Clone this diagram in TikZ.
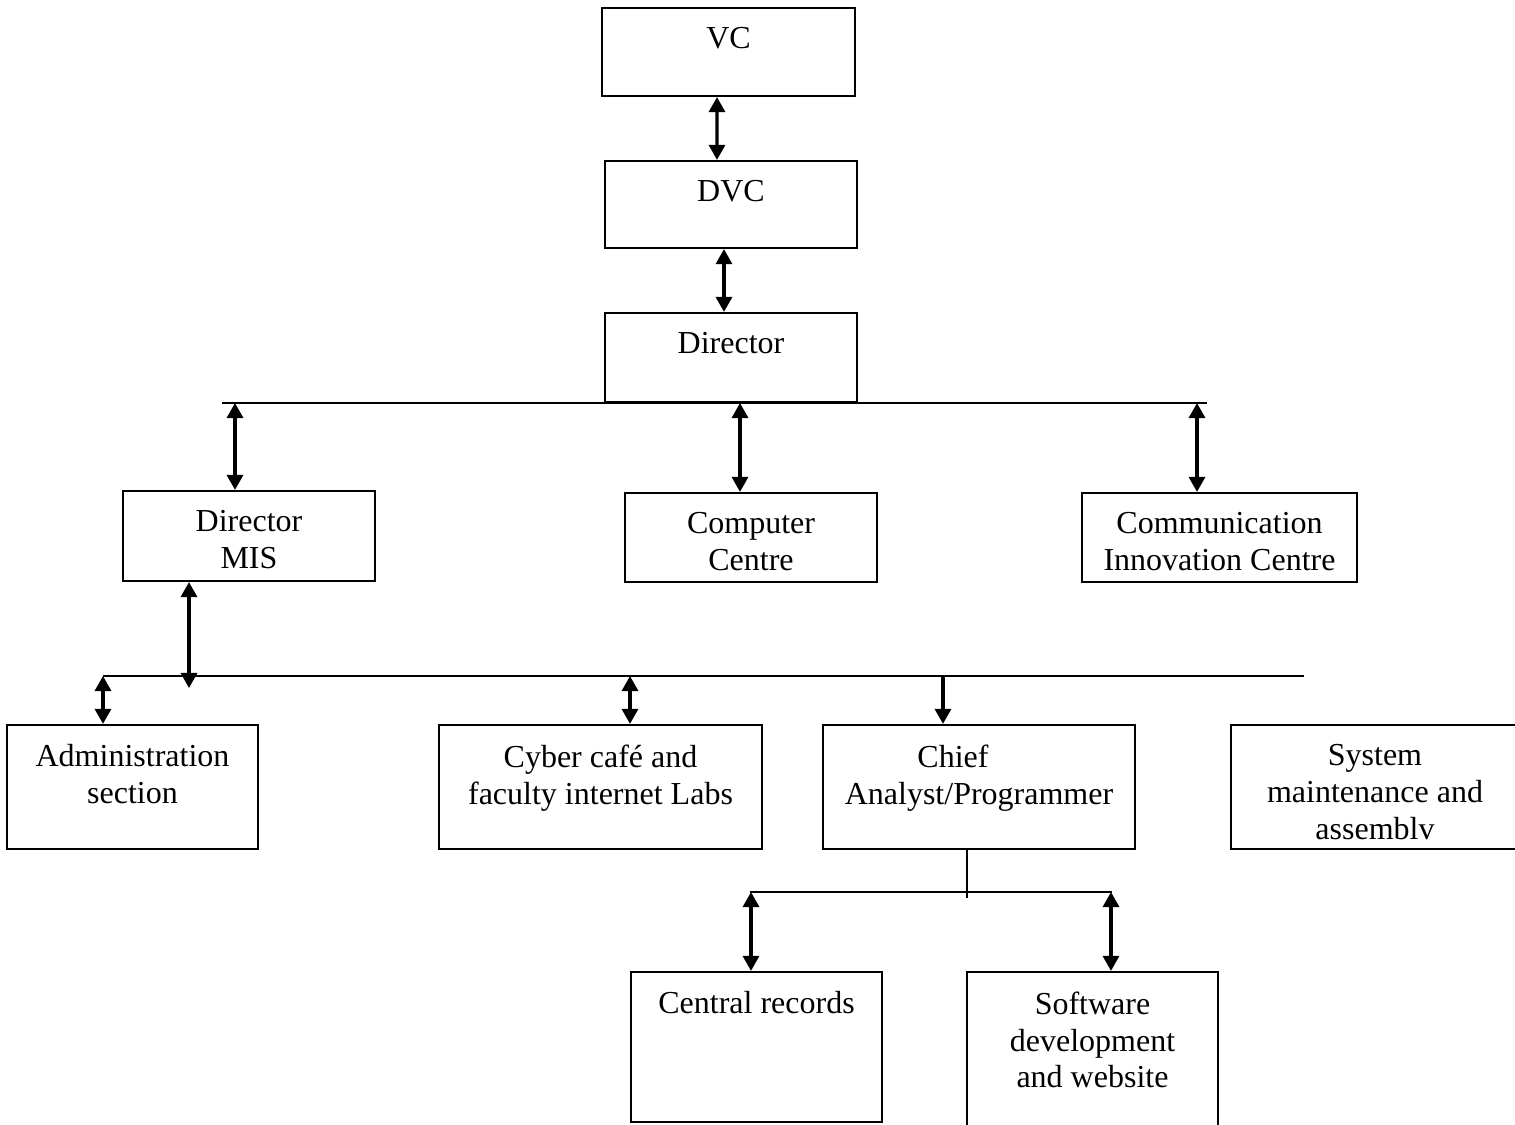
\documentclass[tikz,border=0pt]{standalone}
\usepackage{fontspec}
\setmainfont{Liberation Serif}
\usetikzlibrary{arrows.meta}

\tikzset{
  unitbox/.style={draw, line width=0.6pt, inner sep=0pt},
  boxtext/.style={anchor=north, align=center, inner sep=0pt, yshift=-0.2cm,
    font=\fontsize{9.1pt}{10.5pt}\selectfont},
  twoway/.style={line width=0.9pt,
    {Triangle[width=0.16cm,length=0.15cm]}-{Triangle[width=0.16cm,length=0.15cm]}},
  oneway/.style={line width=0.9pt, -{Triangle[width=0.16cm,length=0.15cm]}},
  busline/.style={line width=0.6pt}
}

\begin{document}
\begin{tikzpicture}[x=0.01cm, y=-0.01cm]
  \clip (0,0) rectangle (1515,1125);
  \node[unitbox, minimum width=2.53cm, minimum height=0.88cm, label={[boxtext]north:VC}] (vc) at (728.5,52) {};
  \node[unitbox, minimum width=2.52cm, minimum height=0.87cm, label={[boxtext]north:DVC}] (dvc) at (731,204.5) {};
  \node[unitbox, minimum width=2.52cm, minimum height=0.89cm, label={[boxtext]north:Director}] (dir) at (731,357.5) {};
  \node[unitbox, minimum width=2.52cm, minimum height=0.90cm, label={[boxtext]north:Director\\MIS}] (mis) at (249,536) {};
  \node[unitbox, minimum width=2.52cm, minimum height=0.89cm, label={[boxtext]north:Computer\\Centre}] (cc) at (751,537.5) {};
  \node[unitbox, minimum width=2.75cm, minimum height=0.89cm, label={[boxtext]north:Communication\\Innovation Centre}] (cic) at (1219.5,537.5) {};
  \node[unitbox, minimum width=2.51cm, minimum height=1.24cm, label={[boxtext]north:Administration\\section}] (admin) at (132.5,787) {};
  \node[unitbox, minimum width=3.23cm, minimum height=1.24cm, label={[boxtext]north:Cyber café and\\faculty internet Labs}] (cyber) at (600.5,787) {};
  \node[unitbox, minimum width=3.12cm, minimum height=1.24cm, label={[boxtext]north:Chief\hspace*{0.52cm}\\Analyst/Programmer}] (chief) at (979,787) {};
  \node[unitbox, minimum width=2.88cm, minimum height=1.24cm, label={[boxtext]north:System\\maintenance and\\assemblv}] (sysm) at (1375,787) {};
  \node[unitbox, minimum width=2.51cm, minimum height=1.50cm, label={[boxtext]north:Central records}] (rec) at (756.5,1047) {};
  \node[unitbox, minimum width=2.51cm, minimum height=1.68cm, label={[boxtext]north:Software\\development\\and website}] (soft) at (1092.5,1056) {};

  \coordinate (b1l) at (222,403);
  \coordinate (b1r) at (1207,403);
  \coordinate (b1a) at (235,403);
  \coordinate (b1b) at (740,403);
  \coordinate (b1c) at (1197,403);
  \coordinate (mistap) at (189,688);
  \coordinate (b2l) at (103,676);
  \coordinate (b2r) at (1304,676);
  \coordinate (b2a) at (103,676);
  \coordinate (b2b) at (630,676);
  \coordinate (b2c) at (943,676);
  \coordinate (chieftap) at (967,898);
  \coordinate (b3l) at (750,892);
  \coordinate (b3r) at (1112,892);
  \coordinate (b3a) at (751,892);
  \coordinate (b3b) at (1111,892);

  \draw[twoway] ([xshift=-0.115cm]vc.south) -- ([xshift=-0.14cm]dvc.north);
  \draw[twoway] ([xshift=-0.07cm]dvc.south) -- ([xshift=-0.07cm]dir.north);
  \draw[busline] (b1l) -- (b1r);
  \draw[twoway] (b1a) -- (b1a |- mis.north);
  \draw[twoway] (b1b) -- (b1b |- cc.north);
  \draw[twoway] (b1c) -- (b1c |- cic.north);
  \draw[twoway] (mistap |- mis.south) -- (mistap);
  \draw[busline] (b2l) -- (b2r);
  \draw[twoway] (b2a) -- (b2a |- admin.north);
  \draw[twoway] (b2b) -- (b2b |- cyber.north);
  \draw[oneway] (b2c) -- (b2c |- chief.north);
  \draw[busline] (chieftap |- chief.south) -- (chieftap);
  \draw[busline] (b3l) -- (b3r);
  \draw[twoway] (b3a) -- (b3a |- rec.north);
  \draw[twoway] (b3b) -- (b3b |- soft.north);
\end{tikzpicture}
\end{document}
